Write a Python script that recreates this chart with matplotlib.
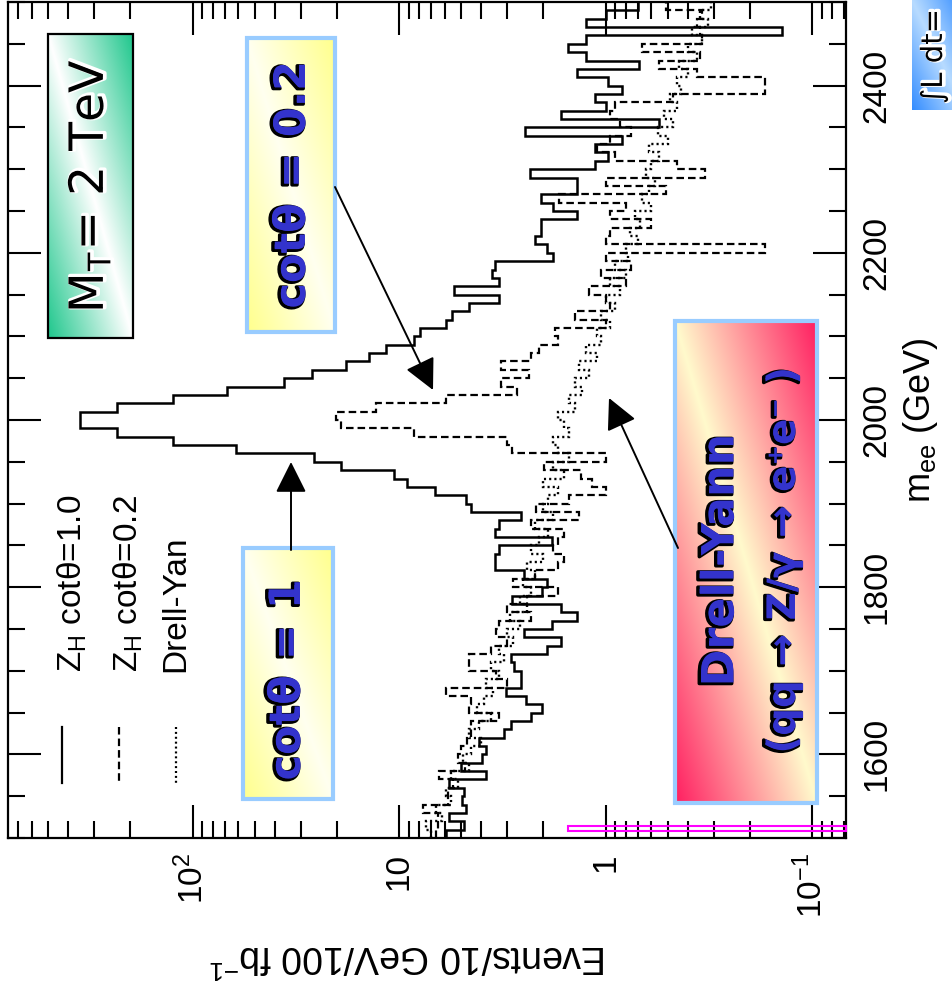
import numpy as np
import matplotlib
matplotlib.use("Agg")
import matplotlib.pyplot as plt
from matplotlib.patches import Rectangle, FancyArrowPatch
from matplotlib.lines import Line2D
from matplotlib.ticker import MultipleLocator, LogLocator, NullFormatter, FixedLocator, FixedFormatter
import matplotlib.patheffects as pe

plt.rcParams['font.family'] = ['Liberation Sans', 'DejaVu Sans']
plt.rcParams['mathtext.fontset'] = 'custom'
plt.rcParams['mathtext.rm'] = 'Liberation Sans'
plt.rcParams['mathtext.it'] = 'Liberation Sans:italic'

W, H = 953, 985

# 10 GeV bins from 1500 to 2500 GeV
mass_edges = np.arange(1500, 2510, 10)

# events / 10 GeV / 100 fb-1, one value per bin (low mass first)
zh_cot10 = [5.93, 4.85, 5.73, 4.75, 4.96, 4.85, 5.73, 3.80, 5.02, 3.98,
            3.80, 4.11, 3.11, 2.88, 2.30, 2.04, 2.43, 3.04, 2.57, 2.57,
            2.78, 2.88, 1.93, 1.65, 2.49, 1.82, 1.38, 1.65, 2.84, 2.04,
            1.93, 2.49, 3.44, 3.44, 3.29, 1.82, 3.44, 3.29, 2.57, 4.49,
            4.75, 6.70, 9.15, 10.6, 19.1, 25.7, 61.3, 125, 233, 351,
            351, 233, 125, 67.8, 36.0, 26.3, 18.0, 14.0, 11.6, 8.47,
            7.92, 5.93, 5.55, 4.59, 3.29, 5.42, 3.29, 3.55, 3.44, 1.80,
            1.93, 2.20, 2.06, 2.06, 1.38, 1.80, 2.06, 1.38, 1.38, 2.33,
            1.12, 0.97, 1.12, 0.83, 2.46, 0.55, 1.65, 1.00, 1.12, 0.83,
            0.97, 1.38, 0.69, 1.24, 1.53, 1.24, 0.14, 1.24, 1.00, 0.70]

zh_cot02 = [6.6, 6.5, 6.5, 7.7, 5.8, 5.8, 5.5, 6.4, 4.8, 5.2,
            5.0, 4.7, 4.5, 4.5, 3.3, 4.6, 4.5, 5.9, 3.0, 3.4,
            4.6, 4.6, 3.6, 3.0, 3.4, 3.3, 2.3, 3.0, 2.4, 1.7,
            2.8, 2.2, 1.7, 1.6, 1.8, 1.7, 1.6, 2.3, 1.35, 2.18,
            1.51, 1.0, 1.17, 1.32, 1.99, 1.0, 2.84, 3.0, 8.47, 19.1,
            20.2, 12.9, 5.93, 2.7, 3.2, 2.35, 3.2, 2.3, 2.1, 1.7,
            1.75, 1.0, 1.4, 0.95, 1.0, 1.2, 0.8, 1.05, 0.75, 1.0,
            0.17, 1.0, 0.95, 0.6, 0.95, 0.8, 1.69, 0.51, 1.0, 0.33,
            0.45, 0.9, 1.1, 0.95, 0.75, 0.85, 0.95, 0.9, 0.47, 0.17,
            0.17, 0.36, 0.55, 0.35, 0.67, 0.34, 0.35, 0.36, 0.34, 0.51]

drell_yan = [7.0, 7.4, 6.2, 6.6, 5.6, 5.9, 5.2, 5.6, 4.6, 4.9,
             4.5, 4.0, 4.6, 4.1, 3.6, 4.2, 3.9, 3.5, 3.8, 3.3,
             3.6, 3.1, 3.3, 2.8, 3.0, 2.6, 2.9, 2.4, 2.6, 2.3,
             2.5, 2.2, 2.4, 2.0, 2.3, 2.1, 1.9, 2.2, 1.8, 2.0,
             1.9, 1.7, 2.0, 1.6, 1.8, 1.5, 1.7, 1.8, 1.5, 1.6,
             1.7, 1.4, 1.5, 1.3, 1.4, 1.2, 1.35, 1.1, 1.25, 1.05,
             1.1, 0.95, 1.05, 0.9, 1.0, 0.85, 0.95, 0.8, 0.9, 0.78,
             0.8, 0.7, 0.76, 0.68, 0.72, 0.6, 0.67, 0.62, 0.58, 0.64,
             0.6, 0.55, 0.62, 0.5, 0.56, 0.47, 0.52, 0.45, 0.49, 0.43,
             0.45, 0.4, 0.44, 0.36, 0.4, 0.34, 0.38, 0.32, 0.35, 0.31]

log_ticks = [0.1, 1, 10, 100]
log_labels = ['$10^{-1}$', '1', '10', '$10^{2}$']

BLUE_TXT = '#3333cc'
FRAME_BLUE = '#99ccff'
DASHED = (0, (3.4, 1.8))
DOTTED = (0, (0.9, 1.3))


def fx(px):
    return px / W


def fy(py):
    return 1 - py / H


fig = plt.figure(figsize=(W / 100, H / 100), dpi=100)

# rotated frame: mass runs upward, log counts run to the left
ax = fig.add_axes([fx(8), fy(838), (846 - 8) / W, (838 - 2) / H])
ax.stairs(zh_cot10, mass_edges, orientation='horizontal', baseline=None,
          color='black', lw=1.8)
ax.stairs(zh_cot02, mass_edges, orientation='horizontal', baseline=None,
          color='black', lw=1.6, linestyle=DASHED)
ax.stairs(drell_yan, mass_edges, orientation='horizontal', baseline=None,
          color='black', lw=1.7, linestyle=DOTTED)

ax.set_xscale('log')
ax.set_xlim(783, 0.0686)
ax.set_ylim(1500, 2500)
ax.xaxis.set_major_locator(FixedLocator(log_ticks))
ax.xaxis.set_major_formatter(FixedFormatter(log_labels))
ax.xaxis.set_minor_locator(LogLocator(base=10, subs=np.arange(2, 10)))
ax.xaxis.set_minor_formatter(NullFormatter())
ax.yaxis.set_major_locator(MultipleLocator(200))
ax.yaxis.set_minor_locator(MultipleLocator(50))

ax.tick_params(which='both', direction='in', top=True, bottom=True,
               left=True, right=True, labelleft=False, labelright=True,
               width=1.5, color='black')
ax.tick_params(which='major', length=24)
ax.tick_params(which='minor', length=12.5)
ax.tick_params(axis='x', labelsize=24, pad=11, labelrotation=90)
ax.tick_params(axis='y', labelsize=24, pad=11, labelrotation=90)
for lab in ax.get_yticklabels():
    lab.set_verticalalignment('center')
for s in ax.spines.values():
    s.set_linewidth(1.6)

fig.text(fx(408), fy(956), 'Events/10 GeV/100 fb$^{-1}$', rotation=180,
         ha='center', va='center', fontsize=27)
fig.text(fx(921), fy(420), 'm$_{\\rm ee}$ (GeV)', rotation=90,
         ha='center', va='center', fontsize=26)

# legend drawn by hand, rotated
for xp, ls in [(62, '-'), (119, DASHED), (176, DOTTED)]:
    fig.add_artist(Line2D([fx(xp), fx(xp)], [fy(727), fy(783)],
                          transform=fig.transFigure, color='black',
                          lw=1.6, linestyle=ls))
for xp, label in [(72, 'Z$_{\\rm H}$ cotθ=1.0'), (128, 'Z$_{\\rm H}$ cotθ=0.2'),
                  (176, 'Drell-Yan')]:
    fig.text(fx(xp), fy(672), label, rotation=90, ha='center', va='bottom',
             fontsize=24)

# magenta marker near the bottom edge
ax.add_patch(Rectangle(((568 - 8) / 838, (838 - 831) / 836), (846 - 568) / 838,
                       5 / 836, transform=ax.transAxes, fill=False,
                       ec='#ff00ff', lw=1.5, clip_on=False, zorder=5))


def gradient_box(x0, y0, x1, y1, edge_rgb, mid_rgb, border, blw):
    bax = fig.add_axes([fx(x0), fy(y1), (x1 - x0) / W, (y1 - y0) / H])
    u = np.linspace(0, 1, 200)[None, :]
    v = np.linspace(0, 1, 200)[:, None]
    f = np.abs(u + v - 1)[..., None]
    img = np.array(mid_rgb) * (1 - f) + np.array(edge_rgb) * f
    bax.imshow(img, extent=[0, 1, 0, 1], origin='lower', aspect='auto',
               interpolation='bilinear')
    bax.set_xlim(0, 1)
    bax.set_ylim(0, 1)
    bax.set_axis_off()
    if blw:
        bax.add_patch(Rectangle((0, 0), 1, 1, transform=bax.transAxes,
                                fill=False, ec=border, lw=blw, clip_on=False))
    return bax


gradient_box(48, 34, 133, 338, (0.12, 0.78, 0.55), (1, 1, 1), 'black', 1.6)
gradient_box(247, 38, 335, 332, (1, 1, 0.55), (1, 1, 0.94), FRAME_BLUE, 3)
gradient_box(243, 548, 333, 799, (1, 1, 0.55), (1, 1, 0.94), FRAME_BLUE, 3)
gradient_box(675, 321, 817, 803, (1, 0.12, 0.38), (1, 0.98, 0.8), FRAME_BLUE, 3)
gradient_box(912, 0, 965, 110, (0.2, 0.55, 1.0), (0.72, 0.86, 1.0), FRAME_BLUE, 0)

shadow_blue = [pe.Stroke(linewidth=2.5, foreground='black', offset=(-1.3, -0.8)),
               pe.Normal()]
shadow_white = [pe.Stroke(linewidth=3, foreground='white', offset=(1.2, 0.8)),
                pe.Normal()]

fig.text(fx(90), fy(186), 'M$_{\\rm T}$= 2 TeV', rotation=90, ha='center',
         va='center', fontsize=34, family='DejaVu Sans', color='black',
         path_effects=shadow_white, zorder=10)
fig.text(fx(293), fy(185), 'cotθ = 0.2', rotation=90, ha='center', va='center',
         fontsize=31, family='DejaVu Sans', weight='bold', color=BLUE_TXT,
         path_effects=shadow_blue, zorder=10)
fig.text(fx(288), fy(680), 'cotθ = 1', rotation=90, ha='center', va='center',
         fontsize=31, family='DejaVu Sans', weight='bold', color=BLUE_TXT,
         path_effects=shadow_blue, zorder=10)
fig.text(fx(721), fy(560), 'Drell-Yann', rotation=90, ha='center', va='center',
         fontsize=32, family='DejaVu Sans', weight='bold', color=BLUE_TXT,
         path_effects=shadow_blue, zorder=10)
fig.text(fx(784), fy(560), '(qq → Z/γ → e⁺e⁻ )', rotation=90, ha='center',
         va='center', fontsize=28, family='DejaVu Sans', weight='bold',
         color=BLUE_TXT, path_effects=shadow_blue, zorder=10)
fig.text(fx(934), fy(104), '∫L dt=', rotation=90, ha='center',
         va='bottom', fontsize=21, family='DejaVu Sans', color='black',
         path_effects=shadow_white, zorder=10)

for (xa, ya), (xb, yb) in [((335, 187), (433, 390)),
                           ((291, 550), (291, 462)),
                           ((678, 548), (609, 398))]:
    fig.add_artist(FancyArrowPatch((fx(xa), fy(ya)), (fx(xb), fy(yb)),
                                   transform=fig.transFigure,
                                   arrowstyle='-|>,head_length=0.4,head_width=0.2',
                                   mutation_scale=48, color='black', lw=1.4,
                                   shrinkA=0, shrinkB=0, zorder=12))

fig.savefig('out.png', dpi=100)
